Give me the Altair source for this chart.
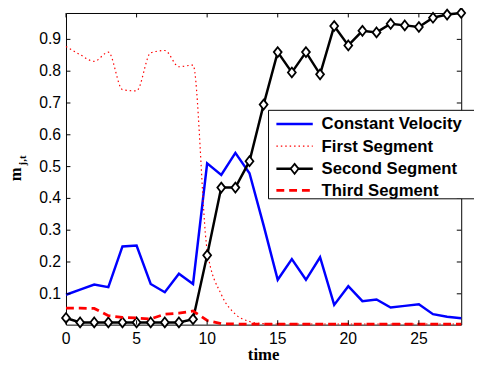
import altair as alt
import pandas as pd

time = list(range(29))
constant_velocity = [0.097, 0.113, 0.129, 0.121, 0.249, 0.252, 0.131, 0.105, 0.163, 0.131,
                     0.510, 0.474, 0.543, 0.479, 0.315, 0.144, 0.209, 0.144, 0.215, 0.065,
                     0.124, 0.077, 0.082, 0.057, 0.062, 0.067, 0.036, 0.028, 0.023]
first_segment = [0.878, 0.852, 0.831, 0.860, 0.742, 0.738, 0.858, 0.865, 0.814, 0.819,
                 0.237, 0.098, 0.036, 0.013, 0.006, 0.005, 0.005, 0.005, 0.005, 0.005,
                 0.005, 0.005, 0.005, 0.005, 0.005, 0.005, 0.005, 0.005, 0.005]
second_segment = [0.024, 0.010, 0.010, 0.010, 0.010, 0.010, 0.010, 0.010, 0.010, 0.020,
                  0.221, 0.434, 0.434, 0.517, 0.695, 0.860, 0.796, 0.860, 0.790, 0.942,
                  0.881, 0.927, 0.922, 0.949, 0.944, 0.939, 0.968, 0.978, 0.983]
third_segment = [0.055, 0.055, 0.054, 0.031, 0.026, 0.024, 0.021, 0.036, 0.039, 0.046,
                 0.016, 0.006, 0.005, 0.005, 0.005, 0.005, 0.005, 0.005, 0.005, 0.005,
                 0.005, 0.005, 0.005, 0.005, 0.005, 0.005, 0.005, 0.005, 0.005]
series_names = ["Constant Velocity", "First Segment", "Second Segment", "Third Segment"]
x_ticks = [0, 5, 10, 15, 20, 25]
y_ticks = [0.1, 0.2, 0.3, 0.4, 0.5, 0.6, 0.7, 0.8, 0.9]

W, H = 402, 317
rows = []
for name, vals in zip(series_names, [constant_velocity, first_segment, second_segment, third_segment]):
    for t, v in zip(time, vals):
        rows.append({"time": t, "value": v, "series": name})
df = pd.DataFrame(rows)

xs = alt.Scale(domain=[0, 28], nice=False)
ys = alt.Scale(domain=[0.003, 0.983], nice=False, zero=False)

X = alt.X("time:Q", scale=xs, axis=None)
Y = alt.Y("value:Q", scale=ys, axis=None)

base = alt.Chart(df)
diamond = "M0,-1L0.8,0L0,1L-0.8,0Z"

cv = base.transform_filter(alt.datum.series == series_names[0]).mark_line(
    color="#0000ff", strokeWidth=2.5).encode(x=X, y=Y)
fs = base.transform_filter(alt.datum.series == series_names[1]).mark_line(
    color="#ff0000", strokeWidth=1.2, strokeDash=[1.5, 3], interpolate="monotone").encode(x=X, y=Y)
ss = base.transform_filter(alt.datum.series == series_names[2]).mark_line(
    color="black", strokeWidth=2.5).encode(x=X, y=Y)
ssp = base.transform_filter(alt.datum.series == series_names[2]).mark_point(
    shape=diamond, size=100, filled=True, fill="white", stroke="black", strokeWidth=1.8, opacity=1
).encode(x=X, y=Y)
ts = base.transform_filter(alt.datum.series == series_names[3]).mark_line(
    color="#ff0000", strokeWidth=2.8, strokeDash=[8, 5]).encode(x=X, y=Y)

xt = pd.DataFrame({"t": x_ticks})
yt = pd.DataFrame({"v": y_ticks})
XT = alt.X("t:Q", scale=xs, axis=None)
YT = alt.Y("v:Q", scale=ys, axis=None)
tick_bottom = alt.Chart(xt).mark_rule(color="black", strokeWidth=1).encode(
    x=XT, y=alt.value(H), y2=alt.value(H - 4.5))
tick_top = alt.Chart(xt).mark_rule(color="black", strokeWidth=1).encode(
    x=XT, y=alt.value(0), y2=alt.value(4.5))
tick_left = alt.Chart(yt).mark_rule(color="black", strokeWidth=1).encode(
    y=YT, x=alt.value(0), x2=alt.value(4.5))
tick_right = alt.Chart(yt).mark_rule(color="black", strokeWidth=1).encode(
    y=YT, x=alt.value(W), x2=alt.value(W - 4.5))
xlabels = alt.Chart(xt).mark_text(align="center", baseline="top", font="Liberation Sans",
                                  fontSize=16, color="black").encode(
    x=XT, y=alt.value(H + 7), text=alt.Text("t:Q", format="d"))
ylabels = alt.Chart(yt).mark_text(align="right", baseline="middle", font="Liberation Sans",
                                  fontSize=16, color="black").encode(
    y=YT, x=alt.value(-5), text=alt.Text("v:Q", format=".1f"))

one = pd.DataFrame({"a": [0]})
xtitle = alt.Chart(one).mark_text(text="time", align="center", baseline="alphabetic",
                                  font="Liberation Serif", fontWeight="bold", fontSize=17,
                                  color="black").encode(x=alt.value(W / 2), y=alt.value(353))
ytitle_m = alt.Chart(one).mark_text(text="m", angle=270, align="center", baseline="alphabetic",
                                    font="Liberation Serif", fontWeight="bold", fontSize=17,
                                    color="black").encode(x=alt.value(-45.5), y=alt.value(164))
ytitle_sub = alt.Chart(one).mark_text(text="j,t", angle=270, align="center", baseline="alphabetic",
                                      font="Liberation Serif", fontWeight="bold", fontSize=11,
                                      color="black").encode(x=alt.value(-40.5), y=alt.value(150))

leg_box = alt.Chart(one).mark_rect(fill="white", stroke="black", strokeWidth=1).encode(
    x=alt.value(206), x2=alt.value(430), y=alt.value(99), y2=alt.value(189))
ly = [113, 135.5, 158.5, 180.5]
lx1, lx2, ltx = 214, 251, 260
leg = [leg_box]
styles = [dict(color="#0000ff", strokeWidth=2.5),
          dict(color="#ff0000", strokeWidth=1.2, strokeDash=[1.5, 3]),
          dict(color="black", strokeWidth=2.5),
          dict(color="#ff0000", strokeWidth=2.8, strokeDash=[8, 5])]
for name, yy, st in zip(series_names, ly, styles):
    leg.append(alt.Chart(one).mark_rule(**st).encode(x=alt.value(lx1), x2=alt.value(lx2), y=alt.value(yy)))
    leg.append(alt.Chart(one).mark_text(text=name, align="left", baseline="middle",
                                        font="Liberation Sans", fontWeight="bold", fontSize=17,
                                        color="black").encode(x=alt.value(ltx), y=alt.value(yy + 0.5)))
leg.append(alt.Chart(one).mark_point(shape=diamond, size=100, filled=True, fill="white", stroke="black",
                                     strokeWidth=1.8, opacity=1).encode(x=alt.value(232.5), y=alt.value(ly[2])))

chart = alt.layer(cv, fs, ss, ssp, ts, tick_bottom, tick_top, tick_left, tick_right,
                  xlabels, ylabels, xtitle, ytitle_m, ytitle_sub, *leg).properties(
    width=W, height=H,
    autosize=alt.AutoSizeParams(type="none"),
    padding={"left": 59, "top": 2, "right": 13, "bottom": 40},
    background="white",
).configure_view(stroke="black", strokeWidth=1)

chart.save("out.html", embed_options={"renderer": "svg", "actions": False})
